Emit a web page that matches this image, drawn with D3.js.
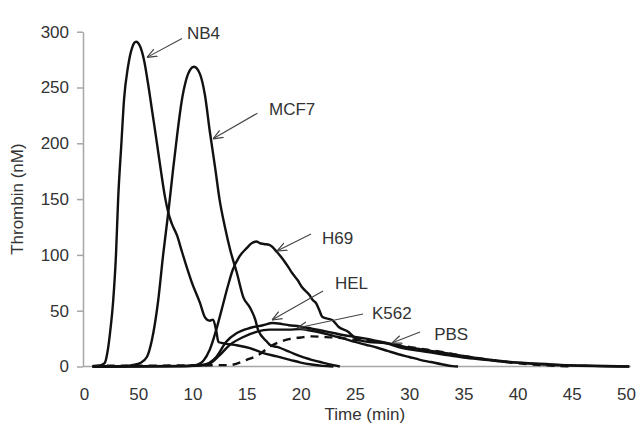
<!DOCTYPE html>
<html>
<head>
<meta charset="utf-8">
<script src="https://cdn.jsdelivr.net/npm/d3@7"></script>
<style>
  body { margin: 0; background: #fff; }
  svg text { font-family: "Liberation Sans", Arial, sans-serif; fill: #333; }
</style>
</head>
<body>
<svg id="chart"></svg>
<script>
// thrombin generation curves: [time (min), thrombin (nM)]
const nb4 = [[0.8,0],[1.5,1],[1.9,3],[2.2,15],[2.4,30],[2.7,60],[2.95,100],[3.15,150],[3.45,200],[3.7,240],
  [4.05,268],[4.45,286],[4.8,291],[5.17,287],[5.55,274],[5.9,254],[6.3,228],[6.7,202],[7.1,175],[7.47,152],
  [7.8,137],[8.1,128],[8.6,117],[9.0,104],[9.96,75],[10.7,57],[11.16,44],[11.6,41],[11.9,42],[12.2,32],
  [12.4,22],[12.8,21],[14.1,19],[15.3,16.5],[16.4,12.5],[17.8,9],[19,6],[20,3.5],[21,1.8],[22,0.6],[23,0]];
const mcf7 = [[0.8,0],[4,0.5],[4.6,1.5],[5.17,3],[5.8,8.5],[6.27,24],[6.83,58],[7.3,100],[7.8,140],[8.2,175],
  [8.6,208],[9.0,237],[9.4,256],[9.8,266],[10.15,268.6],[10.7,262],[11.16,243],[11.6,211],[12.1,178],[12.5,150],
  [13.0,125],[13.5,104],[14.1,84],[14.7,62],[15.3,53],[15.8,42],[16.05,33],[16.9,22],[17.2,19],[17.8,17.5],
  [19,13],[20,9],[21,6],[22,3.5],[23,1.2],[23.6,0]];
const h69 = [[0.8,0],[9.5,0.5],[10.4,1.3],[11.6,15],[12.2,33],[12.7,51],[13.3,73],[13.7,86],[14.3,98],[15.0,106],
  [15.5,110.6],[15.9,112],[16.2,110.6],[16.6,109.8],[17.1,108.9],[17.8,102.6],[18.4,95.4],[18.9,88.3],[19.2,83.8],
  [19.7,77.5],[20.1,71.2],[20.8,64],[21.1,59.6],[21.4,56.9],[21.7,50.6],[22.0,44.3],[22.9,41.6],[23.5,35.4],
  [24.4,30.9],[24.9,26.4],[25.4,23.7],[26.3,21.9],[27.8,21],[29.0,17.5],[31,14],[33,11],[35,8],[37,6],
  [39,4],[41,3],[44,1.5],[47,0.7],[50.3,0]];
const hel = [[0.8,0],[9,0.3],[10.9,1.3],[12.2,8.5],[13.1,22],[14.1,30],[15.3,34.5],[16.5,37],[17.4,39],[18.3,38],
  [18.9,37],[19.9,36],[21,34],[22,32],[23,30],[24,28],[25,26.5],[26,25],[27,23],[28,21],[29,19],[30,17],
  [32,14],[34,11],[36,8],[38,5.5],[40,3.5],[42,2],[45,0.8],[48,0.2],[50.3,0]];
const k562 = [[0.8,0],[9.5,0.3],[11.3,1.3],[12.5,10],[13.4,19],[14.6,26],[15.9,31],[17.1,33],[18.9,33],[19.9,33.6],
  [21,32],[22,30],[23,27.5],[24,25],[25,22],[26,19.5],[27,17],[28,14],[29,11],[30,8.5],[31,6],[32,4],
  [33,2],[34,0.3],[34.5,0]];
const pbs = [[0.8,0.6],[13.4,1.3],[15,6],[16.2,11],[17.1,17.5],[18.2,22.5],[18.9,24.5],[20,26],[21,27],[22,26.5],
  [23,26],[25,24],[27,22],[29,19],[31,16],[33,13],[35,9.5],[37,6.5],[39,4],[41,2],[43,0.8],[45,0]];

const seriesNames = ["NB4", "MCF7", "H69", "HEL", "K562", "PBS"];
const seriesData = [nb4, mcf7, h69, hel, k562, pbs];
const dashed = [false, false, false, false, false, true];

// annotation arrows: tip and tail in data units, label position in data units
const arrowTips = [[5.81,277],[11.9,204],[17.8,103.5],[17.34,41.6],[19.65,34.5],[28.4,21]];
const arrowTails = [[9.04,294],[16.0,227],[20.94,118.7],[22.05,67.6],[25.74,47],[31.0,30.9]];
const labelPos = [[9.5,299],[17.07,230.7],[21.96,115],[23.15,74.8],[26.57,47.8],[32.3,29.1]];

const yTicks = [0, 50, 100, 150, 200, 250, 300];
const xTicks = [0, 5, 10, 15, 20, 25, 30, 35, 40, 45, 50];
const xTickLabels = ["0", "50", "10", "15", "20", "25", "30", "35", "40", "45", "50"]; // as printed

const width = 643, height = 434;
const svg = d3.select("#chart").attr("width", width).attr("height", height);

const x = d3.scaleLinear().domain([0, 50]).range([84, 626]);
const y = d3.scaleLinear().domain([0, 300]).range([366.5, 31.7]);

const axisColor = "#a6a6a6";
const fontSize = "17px";

// y axis
const gy = svg.append("g")
  .attr("transform", `translate(${x(0) - 1},0)`)
  .call(d3.axisLeft(y).tickValues(yTicks).tickSize(6).tickSizeOuter(0).tickPadding(8));
gy.select(".domain").attr("stroke", axisColor).attr("stroke-width", 1.5);
gy.selectAll(".tick line").attr("stroke", axisColor).attr("stroke-width", 1.5);
gy.selectAll(".tick text").style("font-size", fontSize).attr("fill", "#333");

// x axis (no tick marks, line runs a bit past 50)
const gx = svg.append("g")
  .attr("transform", `translate(0,${y(0)})`)
  .call(d3.axisBottom(x).tickValues(xTicks).tickSize(0).tickPadding(21)
    .tickFormat((d, i) => xTickLabels[i]));
gx.select(".domain").remove();
gx.append("line")
  .attr("x1", x(0) - 1).attr("x2", x(50.45))
  .attr("stroke", axisColor).attr("stroke-width", 1.5);
gx.selectAll(".tick text").style("font-size", fontSize).attr("fill", "#333");

// axis titles
svg.append("text")
  .attr("x", x(25.9)).attr("y", 420)
  .attr("text-anchor", "middle")
  .style("font-size", fontSize)
  .text("Time (min)");
svg.append("text")
  .attr("transform", `translate(23,${y(150)}) rotate(-90)`)
  .attr("text-anchor", "middle")
  .style("font-size", fontSize)
  .text("Thrombin (nM)");

// curves
const line = d3.line()
  .x(d => x(d[0]))
  .y(d => y(d[1]))
  .curve(d3.curveMonotoneX);

svg.append("g").selectAll("path")
  .data(seriesData)
  .join("path")
  .attr("d", d => line(d))
  .attr("fill", "none")
  .attr("stroke", "#111")
  .attr("stroke-width", 2.4)
  .attr("stroke-linejoin", "round")
  .attr("stroke-dasharray", (d, i) => dashed[i] ? "8,6" : null);

// arrows
svg.append("defs").append("marker")
  .attr("id", "arrowhead")
  .attr("viewBox", "0 0 10 10")
  .attr("refX", 10).attr("refY", 5)
  .attr("markerUnits", "userSpaceOnUse")
  .attr("markerWidth", 10).attr("markerHeight", 10)
  .attr("orient", "auto")
  .append("path")
  .attr("d", "M0,1 L10,5 L0,9")
  .attr("fill", "none")
  .attr("stroke", "#444")
  .attr("stroke-width", 1.2);

const ann = svg.append("g");
seriesNames.forEach((name, i) => {
  ann.append("line")
    .attr("x1", x(arrowTails[i][0])).attr("y1", y(arrowTails[i][1]))
    .attr("x2", x(arrowTips[i][0])).attr("y2", y(arrowTips[i][1]))
    .attr("stroke", "#444").attr("stroke-width", 1.1)
    .attr("marker-end", "url(#arrowhead)");
  ann.append("text")
    .attr("x", x(labelPos[i][0])).attr("y", y(labelPos[i][1]))
    .attr("dy", "0.35em")
    .style("font-size", fontSize)
    .text(name);
});
</script>
</body>
</html>
